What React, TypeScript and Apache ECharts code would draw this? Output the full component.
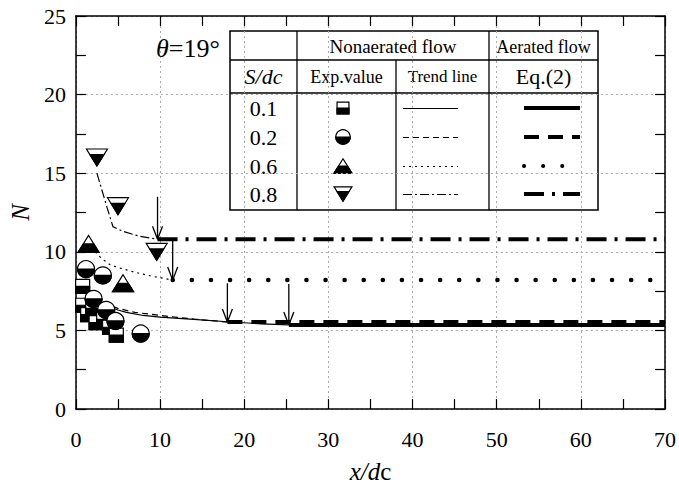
import React, { useEffect, useRef } from "react";
import * as echarts from "echarts";

// ---------------- data ----------------
const sdcLabels = ["0.1", "0.2", "0.6", "0.8"];
const xTicks = [0, 10, 20, 30, 40, 50, 60, 70];
const yTicks = [0, 5, 10, 15, 20, 25];

// Experimental values (x/dc, N)
const expS01 = [[0.8, 7.8], [0.8, 6.6], [1.4, 6.0], [2.0, 6.4], [2.4, 5.5], [3.3, 5.7], [4.0, 5.2], [4.8, 4.7]];
const expS02 = [[1.2, 8.9], [3.2, 8.5], [2.1, 7.0], [3.6, 6.3], [4.7, 5.6], [7.7, 4.8]];
const expS06 = [[1.5, 10.5], [5.6, 8.0]];
const expS08 = [[2.5, 16.0], [5.0, 12.9], [9.6, 10.0]];

// Trend lines (nonaerated flow)
const trendS01 = [[2, 7.2], [3, 6.8], [4, 6.5], [5, 6.3], [6, 6.15], [8, 5.95], [10, 5.85], [14, 5.7], [18, 5.55], [22, 5.42], [25.3, 5.35]];
const trendS02 = [[1.5, 7.6], [3, 6.9], [4, 6.6], [5, 6.4], [7, 6.15], [10, 5.95], [14, 5.72], [18, 5.53]];
const trendS06 = [[2.3, 10.0], [3, 9.6], [4, 9.2], [5, 9.0], [7, 8.7], [9, 8.45], [11.5, 8.2]];
const trendS08 = [[2.5, 15.0], [3.6, 13.0], [4.4, 11.6], [5.6, 11.3], [7.5, 11.0], [9.7, 10.8]];

// Aerated flow, Eq.(2)
const aeratedS01 = [[25.3, 5.35], [70, 5.35]];
const aeratedS02 = [[18, 5.53], [70, 5.53]];
const aeratedS06 = [[11.5, 8.2], [70, 8.2]];
const aeratedS08 = [[9.7, 10.8], [70, 10.8]];

// Arrows: [x, N from, N to]
const arrows = [[9.7, 13.5, 10.8], [11.5, 10.8, 8.2], [18, 8.0, 5.53], [25.3, 7.95, 5.35]];

// ---------------- styling helpers ----------------
const FAMILY = "Liberation Serif";
const QFAMILY = "'Liberation Serif'";
const BLACK = "#000";

type Builder = (cx: number, cy: number, k: number) => any[];

const squareShape: Builder = (cx, cy, k) => {
  const s = 14 * k;
  return [
    { type: "rect", shape: { x: cx - s / 2, y: cy - s / 2, width: s, height: s }, style: { fill: "#fff", stroke: BLACK, lineWidth: 1.2 } },
    { type: "rect", shape: { x: cx - s / 2, y: cy, width: s, height: s / 2 }, style: { fill: BLACK, stroke: BLACK, lineWidth: 1.2 } },
  ];
};
const circleShape: Builder = (cx, cy, k) => {
  const r = 8.5 * k;
  return [
    { type: "circle", shape: { cx, cy, r }, style: { fill: "#fff", stroke: BLACK, lineWidth: 1.2 } },
    { type: "sector", shape: { cx, cy, r, r0: 0, startAngle: 0, endAngle: Math.PI, clockwise: true }, style: { fill: BLACK, stroke: BLACK, lineWidth: 1.2 } },
  ];
};
const triUpShape: Builder = (cx, cy, k) => {
  const w = 21 * k, h = 17 * k;
  return [
    { type: "polygon", shape: { points: [[cx, cy - h / 2], [cx + w / 2, cy + h / 2], [cx - w / 2, cy + h / 2]] }, style: { fill: "#fff", stroke: BLACK, lineWidth: 1.2 } },
    { type: "polygon", shape: { points: [[cx - w / 4, cy], [cx + w / 4, cy], [cx + w / 2, cy + h / 2], [cx - w / 2, cy + h / 2]] }, style: { fill: BLACK, stroke: BLACK, lineWidth: 1.2 } },
  ];
};
const triDownShape: Builder = (cx, cy, k) => {
  const w = 21 * k, h = 17 * k;
  const yb = cy - h / 6;
  return [
    { type: "polygon", shape: { points: [[cx - w / 2, cy - h / 2], [cx + w / 2, cy - h / 2], [cx, cy + h / 2]] }, style: { fill: "#fff", stroke: BLACK, lineWidth: 1.2 } },
    { type: "polygon", shape: { points: [[cx - w / 3, yb], [cx + w / 3, yb], [cx, cy + h / 2]] }, style: { fill: BLACK, stroke: BLACK, lineWidth: 1.2 } },
  ];
};

const markerSeries = (name: string, data: number[][], builder: Builder) => ({
  type: "custom",
  name,
  data,
  encode: { x: 0, y: 1 },
  z: 5,
  renderItem: (_p: any, api: any) => {
    const pt = api.coord([api.value(0), api.value(1)]);
    return { type: "group", children: builder(pt[0], pt[1], 1) };
  },
});

const lineSeries = (name: string, data: number[][], width: number, dash: any, cap = "butt") => ({
  type: "line",
  name,
  data,
  symbol: "none",
  silent: true,
  z: 3,
  lineStyle: { color: BLACK, width, type: dash, cap },
});

// dash patterns (thin trend / thick aerated)
const trendDash = ["solid", [6, 4], [2, 4], [9, 3, 2, 3]];
const aerDash = ["solid", [15, 9], [0.1, 19], [20, 8, 3, 8]];
const builders = [squareShape, circleShape, triUpShape, triDownShape];

export default function App() {
  const ref = useRef<HTMLDivElement>(null);

  useEffect(() => {
    if (!ref.current) return;
    const chart = echarts.init(ref.current, undefined, { renderer: "svg" });

    // ---- legend table as graphic ----
    const L = 230, R = 598, T = 31, B = 210;
    const c1 = 297, c2 = 396, c3 = 489;
    const r1 = 60, r2 = 93;
    const rowY = [108, 137, 166, 194];
    const ln = (x1: number, y1: number, x2: number, y2: number, w = 1.3) => ({
      type: "line", shape: { x1, y1, x2, y2 }, style: { stroke: BLACK, lineWidth: w },
    });
    const txt = (x: number, y: number, text: string, size: number, italic = false) => ({
      type: "text",
      x, y,
      style: {
        text, fill: BLACK, font: `${italic ? "italic " : ""}${size}px ${FAMILY}`,
        align: "center", textAlign: "center", verticalAlign: "middle", textVerticalAlign: "middle",
      },
    });

    const legendEls: any[] = [
      { type: "rect", shape: { x: L, y: T, width: R - L, height: B - T }, style: { fill: "#fff", stroke: BLACK, lineWidth: 1.5 } },
      ln(L, r1, R, r1),
      ln(L, r2, R, r2),
      ln(c1, T, c1, B),
      ln(c3, T, c3, B),
      ln(c2, r1, c2, B),
      txt((c1 + c3) / 2, (T + r1) / 2 + 1, "Nonaerated flow", 19),
      txt((c3 + R) / 2, (T + r1) / 2 + 1, "Aerated flow", 18),
      txt((L + c1) / 2, (r1 + r2) / 2, "S/dc", 22, true),
      txt((c1 + c2) / 2, (r1 + r2) / 2, "Exp.value", 18),
      txt((c2 + c3) / 2, (r1 + r2) / 2, "Trend line", 17),
      txt((c3 + R) / 2, (r1 + r2) / 2, "Eq.(2)", 22),
    ];
    sdcLabels.forEach((lab, i) => {
      const y = rowY[i];
      legendEls.push(txt((L + c1) / 2, y, lab, 22));
      legendEls.push({ type: "group", children: builders[i](343, y, 0.85) });
      const td = trendDash[i];
      legendEls.push({
        type: "line", shape: { x1: 403, y1: y + 0.5, x2: 458, y2: y + 0.5 },
        style: { stroke: BLACK, lineWidth: 1.2, lineDash: td === "solid" ? null : td },
      });
      const ad = aerDash[i];
      legendEls.push({
        type: "line", shape: { x1: 524, y1: y, x2: 580, y2: y },
        style: { stroke: BLACK, lineWidth: 4, lineDash: ad === "solid" ? null : ad, lineCap: i === 2 ? "round" : "butt" },
      });
    });

    const axisCommon = {
      min: 0,
      axisLine: { show: true, onZero: false, lineStyle: { color: BLACK, width: 1.5 } },
      axisTick: { show: true, inside: true, length: 10, lineStyle: { color: BLACK, width: 1.2 } },
      minorTick: { show: true, splitNumber: 2, length: 10, lineStyle: { color: BLACK, width: 1.2 } },
    };

    const option: any = {
      animation: false,
      backgroundColor: "#fff",
      textStyle: { fontFamily: QFAMILY, color: BLACK },
      grid: { left: 75, right: 14, top: 16, bottom: 84 },
      xAxis: [
        {
          ...axisCommon,
          type: "value", max: 70, interval: 10, position: "bottom",
          axisLabel: { show: true, margin: 19, fontSize: 22, fontFamily: QFAMILY, color: BLACK,
            formatter: (v: number) => (xTicks.includes(v) ? String(v) : "") },
          splitLine: { show: true, lineStyle: { color: "#aaa", width: 1, type: [2, 3] } },
          name: "{i|x/d}{n|c}",
          nameLocation: "middle",
          nameGap: 50,
          nameTextStyle: {
            rich: {
              i: { fontFamily: QFAMILY, fontSize: 25, fontStyle: "italic", color: BLACK },
              n: { fontFamily: QFAMILY, fontSize: 25, fontStyle: "normal", color: BLACK },
            },
          },
        },
        { ...axisCommon, type: "value", max: 70, interval: 10, position: "top",
          axisLabel: { show: false }, splitLine: { show: false } },
      ],
      yAxis: [
        {
          ...axisCommon,
          type: "value", max: 25, interval: 5, position: "left",
          axisLabel: { show: true, margin: 10, fontSize: 22, fontFamily: QFAMILY, color: BLACK,
            formatter: (v: number) => (yTicks.includes(v) ? String(v) : "") },
          splitLine: { show: true, lineStyle: { color: "#aaa", width: 1, type: [2, 3] } },
          name: "N",
          nameLocation: "middle",
          nameGap: 31,
          nameTextStyle: { fontFamily: QFAMILY, fontSize: 25, fontStyle: "italic", color: BLACK },
        },
        { ...axisCommon, type: "value", max: 25, interval: 5, position: "right",
          axisLabel: { show: false }, splitLine: { show: false } },
      ],
      graphic: [
        {
          type: "text",
          x: 156, y: 48,
          style: {
            text: "{i|θ}{n|=19°}",
            verticalAlign: "middle", textVerticalAlign: "middle",
            rich: {
              i: { fontFamily: QFAMILY, fontSize: 26, fontStyle: "italic", fill: BLACK },
              n: { fontFamily: QFAMILY, fontSize: 26, fill: BLACK },
            },
          },
          z: 10,
        },
        { type: "group", children: legendEls, z: 10 },
      ],
      series: [
        lineSeries("Trend 0.1", trendS01, 1.2, trendDash[0]),
        lineSeries("Trend 0.2", trendS02, 1.2, trendDash[1]),
        lineSeries("Trend 0.6", trendS06, 1.2, trendDash[2]),
        lineSeries("Trend 0.8", trendS08, 1.2, trendDash[3]),
        lineSeries("Eq.(2) 0.1", aeratedS01, 4, aerDash[0]),
        lineSeries("Eq.(2) 0.2", aeratedS02, 4, aerDash[1]),
        lineSeries("Eq.(2) 0.6", aeratedS06, 4.5, aerDash[2], "round"),
        lineSeries("Eq.(2) 0.8", aeratedS08, 4, aerDash[3]),
        {
          type: "custom",
          name: "arrows",
          data: arrows,
          encode: { x: 0, y: [1, 2] },
          z: 6,
          renderItem: (_p: any, api: any) => {
            const a = api.coord([api.value(0), api.value(1)]);
            const b = api.coord([api.value(0), api.value(2)]);
            const st = { stroke: BLACK, lineWidth: 1.3, fill: null };
            return {
              type: "group",
              children: [
                { type: "line", shape: { x1: a[0], y1: a[1], x2: b[0], y2: b[1] }, style: st },
                { type: "line", shape: { x1: b[0] - 5, y1: b[1] - 13, x2: b[0], y2: b[1] }, style: st },
                { type: "line", shape: { x1: b[0] + 5, y1: b[1] - 13, x2: b[0], y2: b[1] }, style: st },
              ],
            };
          },
        },
        markerSeries("S/dc 0.1", expS01, squareShape),
        markerSeries("S/dc 0.2", expS02, circleShape),
        markerSeries("S/dc 0.6", expS06, triUpShape),
        markerSeries("S/dc 0.8", expS08, triDownShape),
      ],
    };

    chart.setOption(option);
    return () => chart.dispose();
  }, []);

  return (
    <div
      ref={ref}
      style={{ position: "fixed", left: 0, top: 0, width: 679, height: 493, background: "#fff" }}
    />
  );
}
